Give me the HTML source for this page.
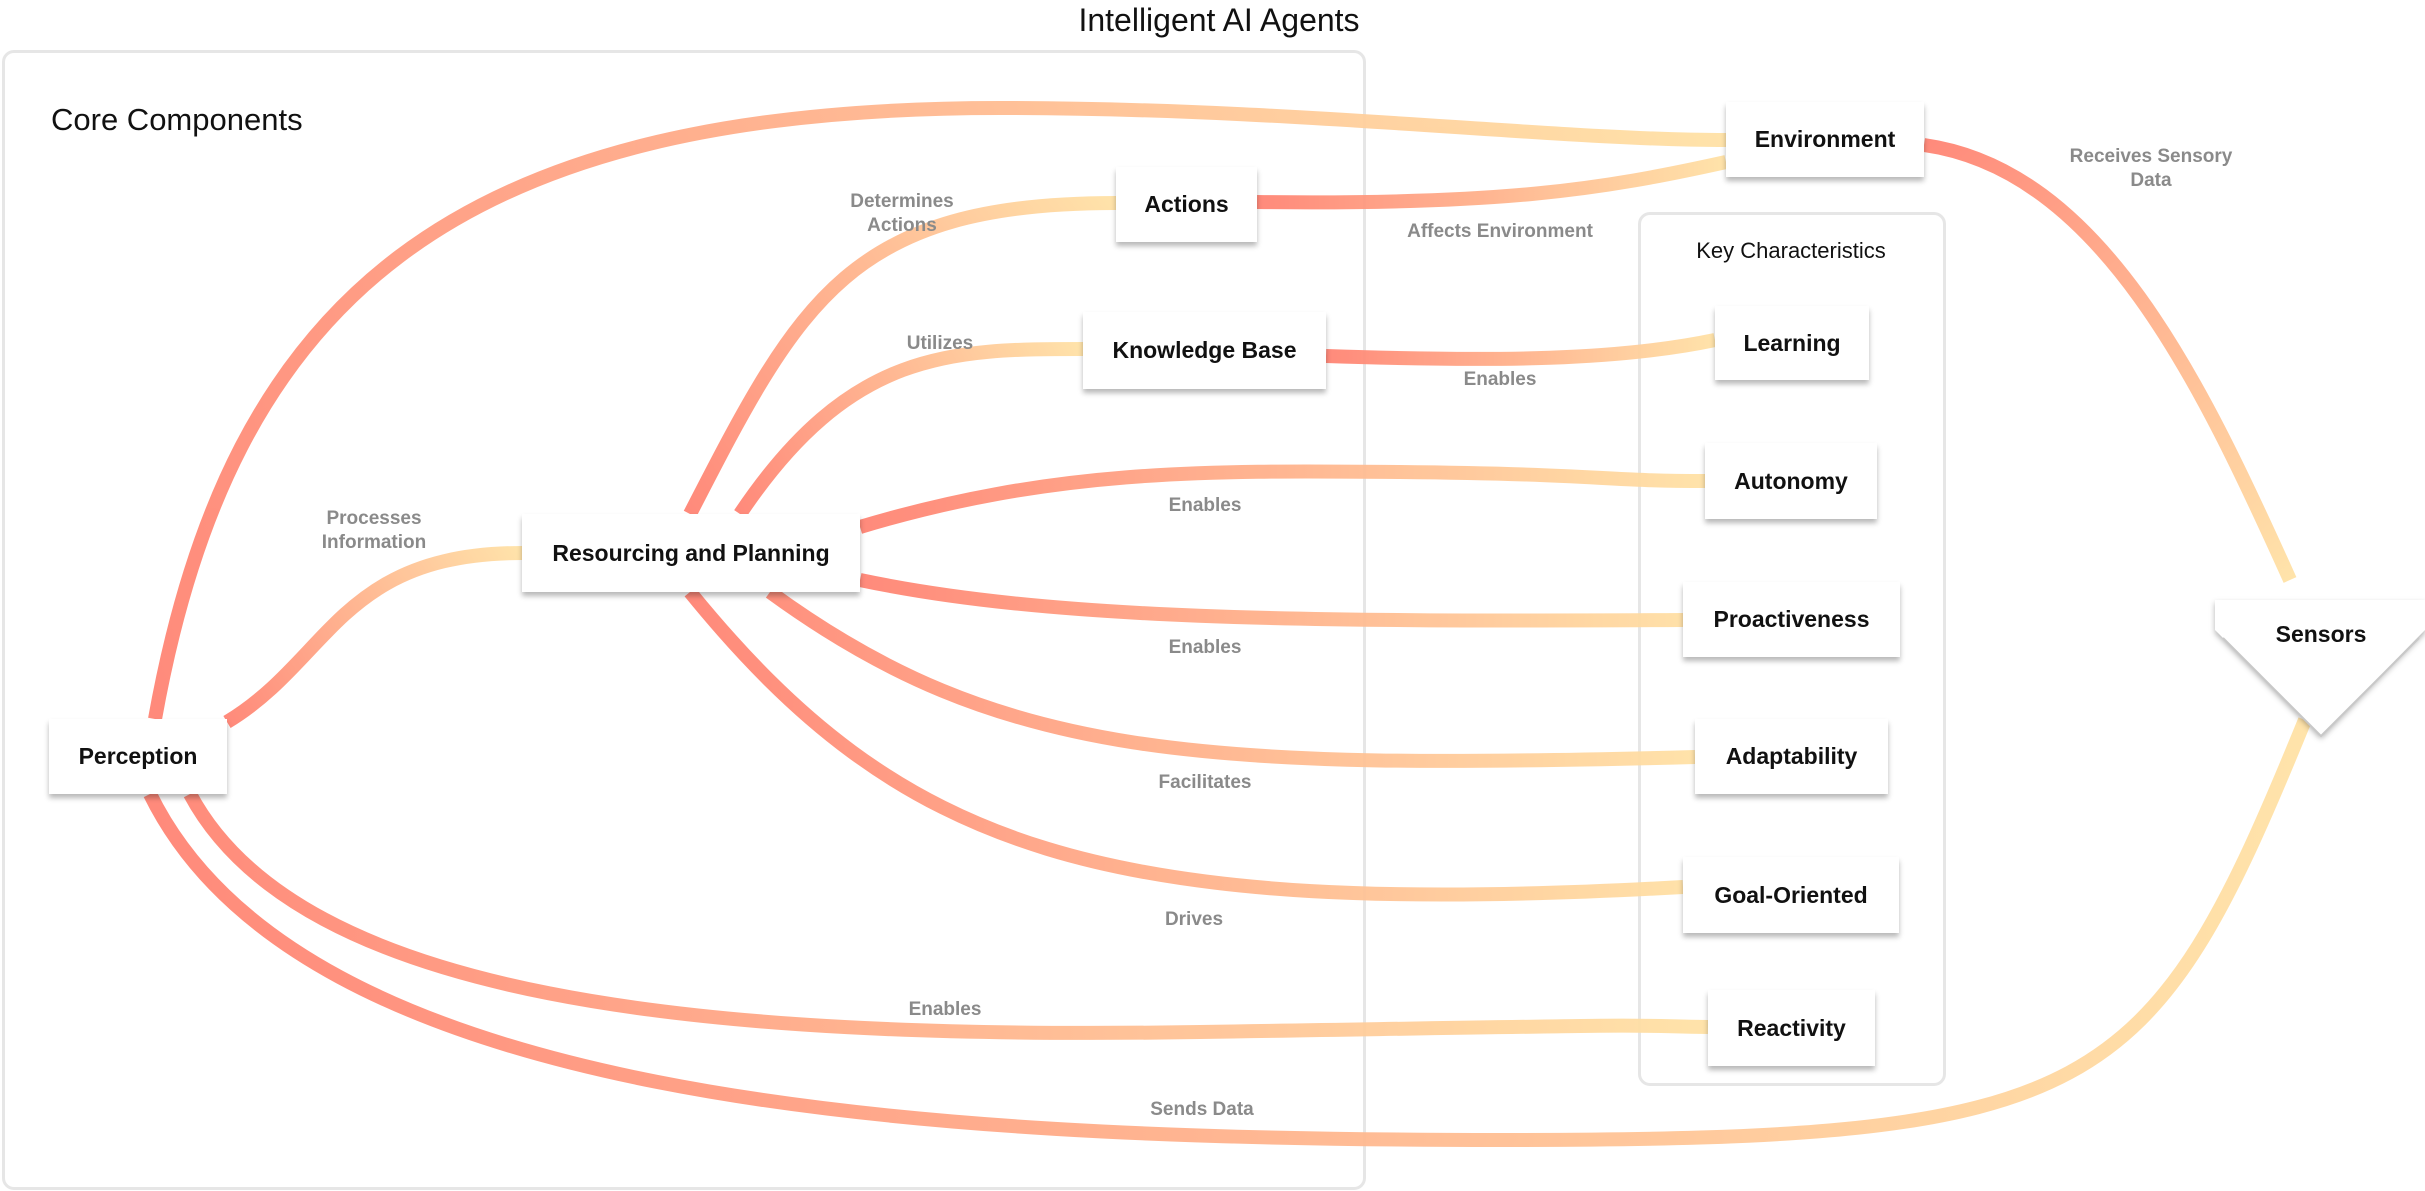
<!DOCTYPE html>
<html><head><meta charset="utf-8"><style>
html,body{margin:0;padding:0;background:#fff;}
#c{position:relative;width:2425px;height:1191px;overflow:hidden;font-family:"Liberation Sans",sans-serif;}
.box{position:absolute;border:3px solid #e6e6e6;border-radius:12px;}
.node{position:absolute;background:#fff;box-shadow:0 4px 5px rgba(0,0,0,0.28);display:flex;align-items:center;justify-content:center;font-weight:bold;font-size:23px;color:#111;}
.lbl{position:absolute;color:#8a8a8a;font-weight:bold;font-size:19px;text-align:center;line-height:24px;transform:translate(-50%,-50%);white-space:nowrap;}
.t{position:absolute;color:#111;}
svg{position:absolute;left:0;top:0;}
</style></head><body><div id="c">
<div class="t" style="left:0;width:2438px;text-align:center;top:2px;font-size:32px;">Intelligent AI Agents</div>
<div class="box" style="left:2px;top:50px;width:1358px;height:1134px;"></div>
<div class="t" style="left:51px;top:102px;font-size:31px;">Core Components</div>
<div class="box" style="left:1638px;top:212px;width:302px;height:868px;"></div>
<div class="t" style="left:1640px;width:302px;text-align:center;top:238px;font-size:22px;">Key Characteristics</div>

<svg width="2425" height="1191" viewBox="0 0 2425 1191">
<defs>
<linearGradient id="g1" gradientUnits="userSpaceOnUse" x1="155" y1="719" x2="1726" y2="140"><stop offset="0" stop-color="#FF8474"/><stop offset="1" stop-color="#FFE2A6"/></linearGradient>
<linearGradient id="g2" gradientUnits="userSpaceOnUse" x1="1257" y1="0" x2="1726" y2="0"><stop offset="0" stop-color="#FF8474"/><stop offset="1" stop-color="#FFE2A6"/></linearGradient>
<linearGradient id="g3" gradientUnits="userSpaceOnUse" x1="690" y1="514" x2="1116" y2="203"><stop offset="0" stop-color="#FF8474"/><stop offset="1" stop-color="#FFE2A6"/></linearGradient>
<linearGradient id="g4" gradientUnits="userSpaceOnUse" x1="740" y1="514" x2="1083" y2="349"><stop offset="0" stop-color="#FF8474"/><stop offset="1" stop-color="#FFE2A6"/></linearGradient>
<linearGradient id="g5" gradientUnits="userSpaceOnUse" x1="227" y1="722" x2="522" y2="553"><stop offset="0" stop-color="#FF8474"/><stop offset="1" stop-color="#FFE2A6"/></linearGradient>
<linearGradient id="g6" gradientUnits="userSpaceOnUse" x1="1326" y1="0" x2="1715" y2="0"><stop offset="0" stop-color="#FF8474"/><stop offset="1" stop-color="#FFE2A6"/></linearGradient>
<linearGradient id="g7" gradientUnits="userSpaceOnUse" x1="860" y1="0" x2="1705" y2="0"><stop offset="0" stop-color="#FF8474"/><stop offset="1" stop-color="#FFE2A6"/></linearGradient>
<linearGradient id="g8" gradientUnits="userSpaceOnUse" x1="690" y1="0" x2="1700" y2="0"><stop offset="0" stop-color="#FF8474"/><stop offset="1" stop-color="#FFE2A6"/></linearGradient>
<linearGradient id="g9" gradientUnits="userSpaceOnUse" x1="150" y1="0" x2="1708" y2="0"><stop offset="0" stop-color="#FF8474"/><stop offset="1" stop-color="#FFE2A6"/></linearGradient>
<linearGradient id="g10" gradientUnits="userSpaceOnUse" x1="150" y1="0" x2="2305" y2="0"><stop offset="0" stop-color="#FF8474"/><stop offset="1" stop-color="#FFE2A6"/></linearGradient>
<linearGradient id="g11" gradientUnits="userSpaceOnUse" x1="1924" y1="145" x2="2290" y2="580"><stop offset="0" stop-color="#FF8474"/><stop offset="1" stop-color="#FFE2A6"/></linearGradient>
</defs>
<g fill="none" stroke-width="14" opacity="0.95">
<path d="M155 719 C230 300,450 108,1000 108 C1300 108,1550 140,1726 140" stroke="url(#g1)"/>
<path d="M1257 202 C1500 205,1600 190,1726 162" stroke="url(#g2)"/>
<path d="M690 514 C800 300,850 203,1116 203" stroke="url(#g3)"/>
<path d="M740 514 C850 350,950 349,1083 349" stroke="url(#g4)"/>
<path d="M227 722 C330 660,340 553,522 553" stroke="url(#g5)"/>
<path d="M1326 356 C1500 362,1620 360,1715 340" stroke="url(#g6)"/>
<path d="M860 527 C1050 470,1200 470,1400 472 S1600 481,1705 481" stroke="url(#g7)"/>
<path d="M860 580 C1050 620,1300 622,1683 620" stroke="url(#g7)"/>
<path d="M770 592 C1000 760,1200 770,1695 757" stroke="url(#g8)"/>
<path d="M690 592 C900 850,1100 920,1683 887" stroke="url(#g8)"/>
<path d="M190 794 C300 1000,700 1040,1200 1032 S1600 1025,1708 1027" stroke="url(#g9)"/>
<path d="M150 794 C300 1100,900 1140,1500 1140 S2150 1100,2305 720" stroke="url(#g10)"/>
<path d="M1924 145 C2100 170,2200 380,2290 580" stroke="url(#g11)"/>
</g>
<g style="filter:drop-shadow(0 3px 3px rgba(0,0,0,0.3))">
<polygon points="2215,600 2425,600 2425,630 2321,736 2215,630" fill="#fff"/>
</g>
<polyline points="2223,638 2321,736 2419,638" fill="none" stroke="#c8c8c8" stroke-width="2"/>
<text x="2321" y="642" text-anchor="middle" font-family="Liberation Sans,sans-serif" font-weight="bold" font-size="23" fill="#111">Sensors</text>
</svg>

<div class="node" style="left:1726px;top:102px;width:198px;height:75px;">Environment</div>
<div class="node" style="left:1116px;top:167px;width:141px;height:75px;">Actions</div>
<div class="node" style="left:1083px;top:312px;width:243px;height:77px;">Knowledge Base</div>
<div class="node" style="left:522px;top:514px;width:338px;height:78px;">Resourcing and Planning</div>
<div class="node" style="left:49px;top:719px;width:178px;height:75px;">Perception</div>
<div class="node" style="left:1715px;top:306px;width:154px;height:74px;">Learning</div>
<div class="node" style="left:1705px;top:443px;width:172px;height:76px;">Autonomy</div>
<div class="node" style="left:1683px;top:582px;width:217px;height:75px;">Proactiveness</div>
<div class="node" style="left:1695px;top:719px;width:193px;height:75px;">Adaptability</div>
<div class="node" style="left:1683px;top:857px;width:216px;height:76px;">Goal-Oriented</div>
<div class="node" style="left:1708px;top:990px;width:167px;height:76px;">Reactivity</div>

<div class="lbl" style="left:1500px;top:232px;">Affects Environment</div>
<div class="lbl" style="left:902px;top:214px;">Determines<br>Actions</div>
<div class="lbl" style="left:940px;top:344px;">Utilizes</div>
<div class="lbl" style="left:374px;top:531px;">Processes<br>Information</div>
<div class="lbl" style="left:1500px;top:380px;">Enables</div>
<div class="lbl" style="left:1205px;top:506px;">Enables</div>
<div class="lbl" style="left:1205px;top:648px;">Enables</div>
<div class="lbl" style="left:1205px;top:783px;">Facilitates</div>
<div class="lbl" style="left:1194px;top:920px;">Drives</div>
<div class="lbl" style="left:945px;top:1010px;">Enables</div>
<div class="lbl" style="left:1202px;top:1110px;">Sends Data</div>
<div class="lbl" style="left:2151px;top:169px;">Receives Sensory<br>Data</div>
</div></body></html>
